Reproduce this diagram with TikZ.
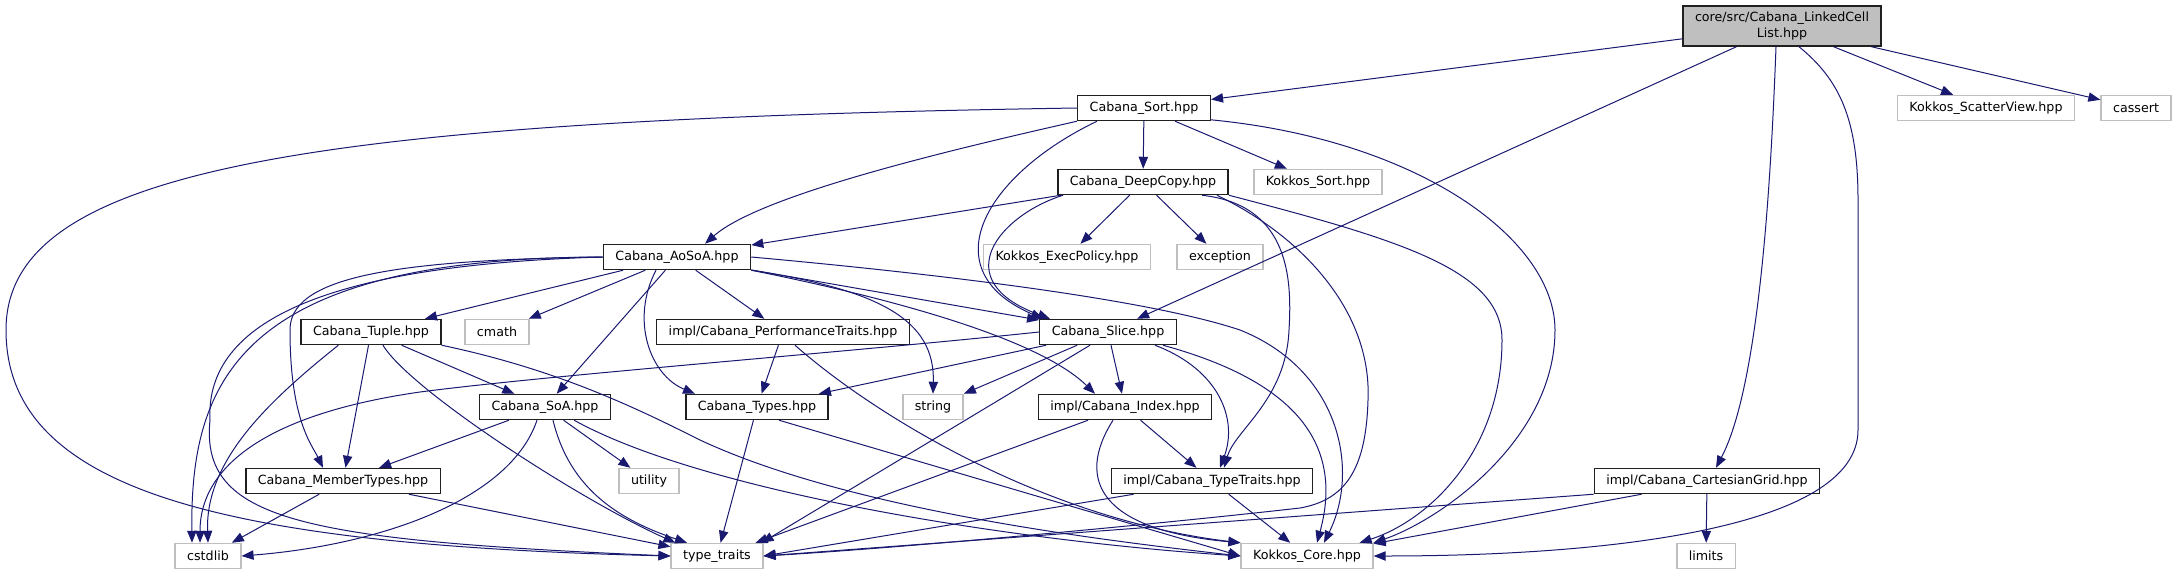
\documentclass[tikz,border=0pt]{standalone}
\usepackage{fontspec}
\setmainfont{DejaVu Sans}
\usetikzlibrary{arrows.meta,calc}
\definecolor{edgeblue}{HTML}{191970}
\definecolor{extgrey}{HTML}{BFBFBF}
\definecolor{boxline}{HTML}{202020}
\tikzset{
  dep/.style={-{Triangle[length=9pt,width=7pt]},line width=0.75pt,edgeblue},
  hdr/.style={draw=boxline,line width=1.1pt,fill=white,font=\fontsize{9.5}{11.4}\selectfont,inner xsep=9pt,inner ysep=2pt,minimum height=18.75pt},
  ext/.style={hdr,draw=extgrey},
  rootbox/.style={hdr,fill=extgrey,align=center,minimum height=30pt}
}
\begin{document}
\begin{tikzpicture}[x=0.75pt,y=-0.75pt]
\useasboundingbox (0,0) rectangle (2176,575);
\node[rootbox] (root) at (1782,26) {core/src/Cabana\_LinkedCell\\List.hpp};
\node[hdr] (sort) at (1144,108) {Cabana\_Sort.hpp};
\node[ext] (scatter) at (1986,108) {Kokkos\_ScatterView.hpp};
\node[ext] (cassert) at (2136,108) {cassert};
\node[hdr] (deepcopy) at (1143,182) {Cabana\_DeepCopy.hpp};
\node[ext] (ksort) at (1318,182) {Kokkos\_Sort.hpp};
\node[hdr] (aosoa) at (677,257) {Cabana\_AoSoA.hpp};
\node[ext] (execpol) at (1067,257) {Kokkos\_ExecPolicy.hpp};
\node[ext] (exception) at (1220,257) {exception};
\node[hdr] (tuple) at (371,332) {Cabana\_Tuple.hpp};
\node[ext] (cmath) at (497,332) {cmath};
\node[hdr] (perf) at (783,332) {impl/Cabana\_PerformanceTraits.hpp};
\node[hdr] (slice) at (1108,332) {Cabana\_Slice.hpp};
\node[hdr] (soa) at (545,407) {Cabana\_SoA.hpp};
\node[hdr] (types) at (757,407) {Cabana\_Types.hpp};
\node[ext] (string) at (933,407) {string};
\node[hdr] (index) at (1125,407) {impl/Cabana\_Index.hpp};
\node[hdr] (membertypes) at (343,481) {Cabana\_MemberTypes.hpp};
\node[ext] (utility) at (649,481) {utility};
\node[hdr] (typetraits) at (1212,481) {impl/Cabana\_TypeTraits.hpp};
\node[hdr] (cartgrid) at (1707,481) {impl/Cabana\_CartesianGrid.hpp};
\node[ext] (cstdlib) at (208,556) {cstdlib};
\node[ext] (typetr) at (717,556) {type\_traits};
\node[ext] (kcore) at (1307,556) {Kokkos\_Core.hpp};
\node[ext] (limits) at (1706,556) {limits};

\draw[dep] (root) -- (sort);
\draw[dep] (root) -- (slice);
\draw[dep] ($(root.south)+(-6,0)$) .. controls (1772,150) and (1762,380) .. ($(cartgrid.north)+(9,0)$);
\draw[dep] ($(root.south)+(17,0)$) .. controls (1840,80) and (1858,120) .. (1858,200) -- (1858,430) .. controls (1858,530) and (1600,556) .. (kcore.east);
\draw[dep] (root) -- (scatter);
\draw[dep] (root) -- (cassert);

\draw[dep] (sort) -- (deepcopy);
\draw[dep] (sort) -- (ksort);
\draw[dep] (sort.south west) .. controls (950,150) and (760,195) .. ($(aosoa.north)+(28,0)$);
\draw[dep] ($(sort.south west)+(20,0)$) .. controls (985,175) and (930,270) .. ($(slice.north west)+(4,0)$);
\draw[dep] (sort.-10) .. controls (1420,140) and (1555,240) .. (1555,330) .. controls (1555,440) and (1440,520) .. (kcore.north east);
\draw[dep] (sort.west) .. controls (300,120) and (6,170) .. (6,330) .. controls (6,490) and (220,545) .. (typetr.west);

\draw[dep] (deepcopy) -- (aosoa);
\draw[dep] ($(deepcopy.south west)+(6,0)$) .. controls (1000,215) and (945,280) .. ($(slice.north west)+(11,0)$);
\draw[dep] (deepcopy) -- (execpol);
\draw[dep] (deepcopy) -- (exception);
\draw[dep] ($(deepcopy.south east)+(-27,0)$) .. controls (1290,205) and (1292,280) .. (1289,330) .. controls (1286,400) and (1235,430) .. ($(typetraits.north)+(12,0)$);
\draw[dep] ($(deepcopy.south east)+(-12,0)$) .. controls (1300,235) and (1372,310) .. (1368,400) .. controls (1366,470) and (1345,500) .. (1300,508) .. controls (1150,525) and (900,548) .. (typetr.east);
\draw[dep] (deepcopy.south east) .. controls (1400,240) and (1502,270) .. (1502,340) .. controls (1502,450) and (1430,520) .. ($(kcore.north east)+(-14,0)$);

\draw[dep] (slice.west) .. controls (850,352) and (550,375) .. (420,392) .. controls (260,415) and (200,470) .. ($(cstdlib.north)+(-8,0)$);
\draw[dep] (slice) -- (types);
\draw[dep] (slice) -- (string);
\draw[dep] (slice) -- (index);
\draw[dep] ($(slice.south)+(-18,0)$) -- ($(typetr.north east)+(-2,0)$);
\draw[dep] ($(slice.south east)+(-22,0)$) .. controls (1220,370) and (1238,420) .. ($(typetraits.north)+(8,0)$);
\draw[dep] ($(slice.south east)+(-14,0)$) .. controls (1290,380) and (1345,440) .. ($(kcore.north)+(10,0)$);

\draw[dep] (aosoa) -- (tuple);
\draw[dep] (aosoa) -- (cmath);
\draw[dep] (aosoa) -- (perf);
\draw[dep] (aosoa) -- (soa);
\draw[dep] ($(aosoa.south)+(-21,0)$) .. controls (630,320) and (650,375) .. ($(types.north)+(-62,0)$);
\draw[dep] (aosoa.south east) .. controls (880,290) and (935,320) .. (string.north);
\draw[dep] (aosoa) -- (slice);
\draw[dep] (aosoa.south east) .. controls (900,300) and (1040,340) .. ($(index.north)+(-30,0)$);
\draw[dep] (aosoa.east) .. controls (950,275) and (1150,300) .. (1240,330) .. controls (1340,370) and (1360,470) .. ($(kcore.north)+(17,0)$);
\draw[dep] (aosoa.west) .. controls (380,260) and (290,280) .. (290,330) .. controls (290,420) and (312,445) .. ($(membertypes.north)+(-20,0)$);
\draw[dep] (aosoa.west) .. controls (240,258) and (190,380) .. ($(cstdlib.north)+(-16,0)$);
\draw[dep] (aosoa.west) .. controls (330,265) and (205,320) .. (210,420) .. controls (200,520) and (300,540) .. (typetr.west);

\draw[dep] ($(tuple.south west)+(38,0)$) .. controls (270,400) and (205,460) .. (cstdlib.north);
\draw[dep] (tuple) -- (membertypes);
\draw[dep] (tuple) -- (soa);
\draw[dep] ($(tuple.south)+(12,0)$) .. controls (410,390) and (580,500) .. ($(typetr.north west)+(5,0)$);
\draw[dep] (tuple.south east) .. controls (560,370) and (640,410) .. (700,440) .. controls (850,510) and (1100,540) .. (kcore.west);

\draw[dep] (soa) -- (membertypes);
\draw[dep] ($(soa.south)+(-8,0)$) .. controls (510,500) and (380,545) .. (cstdlib.east);
\draw[dep] ($(soa.south)+(8,0)$) .. controls (570,490) and (620,520) .. ($(typetr.north)+(-30,0)$);
\draw[dep] (soa) -- (utility);
\draw[dep] ($(soa.south east)+(-37,0)$) .. controls (700,490) and (1000,540) .. (kcore.west);

\draw[dep] (perf) -- (types);
\draw[dep] ($(perf.south)+(12,0)$) .. controls (880,420) and (1050,520) .. (kcore.north west);

\draw[dep] (types) -- (typetr);
\draw[dep] ($(types.south)+(22,0)$) -- (kcore.west);

\draw[dep] ($(index.south)+(-37,0)$) -- ($(typetr.north east)+(-8,0)$);
\draw[dep] (index) -- (typetraits);
\draw[dep] ($(index.south)+(-12,0)$) .. controls (1075,480) and (1100,530) .. (kcore.north west);

\draw[dep] ($(typetraits.south west)+(23,0)$) -- (typetr.east);
\draw[dep] (typetraits) -- (kcore);

\draw[dep] (cartgrid.south west) -- (typetr.east);
\draw[dep] ($(cartgrid.south west)+(48,0)$) -- (kcore);
\draw[dep] (cartgrid) -- (limits);

\draw[dep] (membertypes) -- (cstdlib);
\draw[dep] (membertypes) -- (typetr);
\end{tikzpicture}
\end{document}
